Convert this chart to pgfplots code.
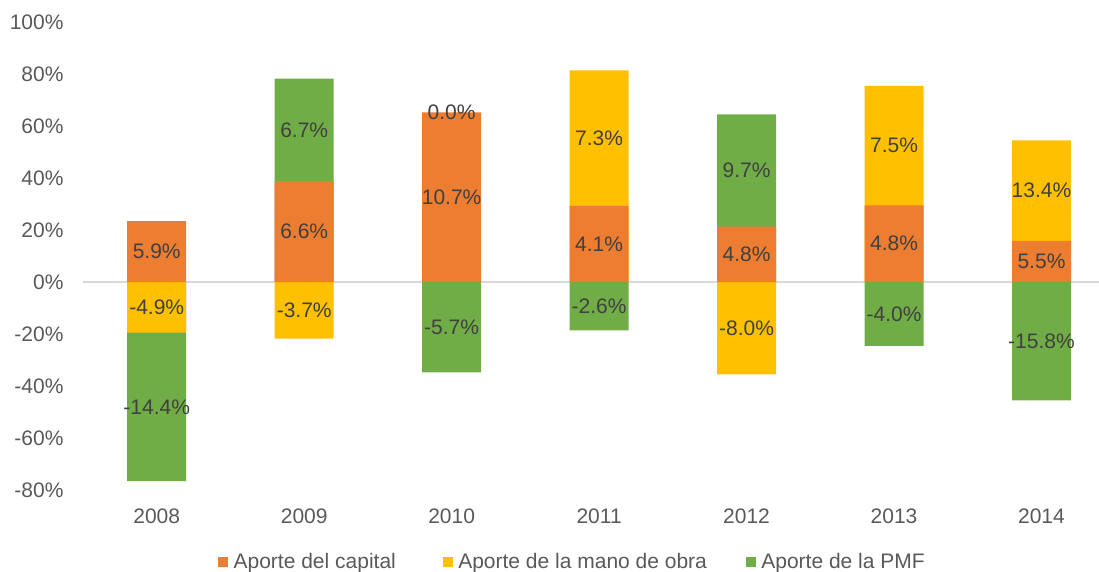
\documentclass[border=0pt]{standalone}
\usepackage{pgfplots}
\pgfplotsset{compat=1.18}
\usepackage{pgfplotstable}
\usepackage{fontspec}
\setmainfont{Liberation Sans}
\definecolor{ccap}{HTML}{ED7D31}
\definecolor{clab}{HTML}{FFC000}
\definecolor{cpmf}{HTML}{70AD47}
\definecolor{tickgray}{HTML}{595959}
\definecolor{lblgray}{HTML}{404040}
\definecolor{zerogray}{HTML}{D9D9D9}
\newcommand{\bigfont}{\fontsize{21}{25}\selectfont}

\pgfplotstableread{
x y
3 81.43
5 75.46
6 54.47
}\labtop
\pgfplotstableread{
x y
1 78.24
4 64.44
}\pmftop
\pgfplotstableread{
x y
0 -76.59
2 -34.76
3 -18.57
5 -24.54
6 -45.53
}\pmfbot
\pgfplotstableread{
x y
0 -19.44
1 -21.76
4 -35.56
}\labbot
\pgfplotstableread{
x y
0 23.41
1 38.82
2 65.24
3 29.29
4 21.33
5 29.45
6 15.85
}\capdata
\pgfplotstableread{
x y label
0 11.70 5.9
0 -9.72 -4.9
0 -48.02 -14.4
1 19.41 6.6
1 58.53 6.7
1 -10.88 -3.7
2 32.62 10.7
2 65.24 0.0
2 -17.38 -5.7
3 14.64 4.1
3 55.36 7.3
3 -9.29 -2.6
4 10.67 4.8
4 42.89 9.7
4 -17.78 -8.0
5 14.72 4.8
5 52.45 7.5
5 -12.27 -4.0
6 7.93 5.5
6 35.16 13.4
6 -22.77 -15.8
}\labels

\begin{document}
\begin{tikzpicture}
\begin{axis}[
  name=ax,
  scale only axis,
  width=1016pt, height=468pt,
  xmin=-0.5, xmax=6.39,
  ymin=-80, ymax=100,
  axis x line*=bottom, axis y line*=left,
  axis line style={draw=none},
  xtick={0,1,2,3,4,5,6},
  xticklabels={2008,2009,2010,2011,2012,2013,2014},
  ytick={-80,-60,-40,-20,0,20,40,60,80,100},
  yticklabels={-80\%,-60\%,-40\%,-20\%,0\%,20\%,40\%,60\%,80\%,100\%},
  major tick length=0pt,
  tick style={draw=none},
  every tick label/.append style={font=\bigfont, text=tickgray},
  xticklabel style={yshift=-15pt},
  yticklabel style={xshift=-16pt},
  clip=false,
  legend style={draw=none, fill=none, font=\bigfont, text=tickgray,
    legend columns=3, at={(0.1329,-0.1530)}, anchor=west,
    inner sep=0pt, nodes={inner sep=3pt},
    /tikz/column 1/.style={column sep=3pt},
    /tikz/column 3/.style={column sep=3pt},
    /tikz/column 5/.style={column sep=3pt},
    /tikz/column 2/.style={column sep=44pt},
    /tikz/column 4/.style={column sep=36pt}},
]
\draw[zerogray, line width=1.5pt] (axis cs:-0.5,0) -- (axis cs:6.39,0);
\addplot[ybar, bar width=59pt, bar shift=0pt, fill=clab, draw=none, forget plot] table[x=x,y=y]{\labtop};
\addplot[ybar, bar width=59pt, bar shift=0pt, fill=cpmf, draw=none, forget plot] table[x=x,y=y]{\pmftop};
\addplot[ybar, bar width=59pt, bar shift=0pt, fill=cpmf, draw=none, forget plot] table[x=x,y=y]{\pmfbot};
\addplot[ybar, bar width=59pt, bar shift=0pt, fill=clab, draw=none, forget plot] table[x=x,y=y]{\labbot};
\addplot[ybar, bar width=59pt, bar shift=0pt, fill=ccap, draw=none, forget plot] table[x=x,y=y]{\capdata};
\addplot[draw=none, mark=none, forget plot, nodes near coords={\pgfplotspointmeta\%},
  point meta=explicit symbolic,
  every node near coord/.append style={anchor=center, font=\bigfont, text=lblgray, inner sep=0pt}]
  table[x=x,y=y,meta=label]{\labels};
\addlegendimage{legend image code/.code={\fill[ccap] (0pt,-4.5pt) rectangle (9pt,4.5pt);}}
\addlegendentry{Aporte del capital}
\addlegendimage{legend image code/.code={\fill[clab] (0pt,-4.5pt) rectangle (9pt,4.5pt);}}
\addlegendentry{Aporte de la mano de obra}
\addlegendimage{legend image code/.code={\fill[cpmf] (0pt,-4.5pt) rectangle (9pt,4.5pt);}}
\addlegendentry{Aporte de la PMF}
\end{axis}
\pgfresetboundingbox
\path[use as bounding box] ([xshift=-83pt,yshift=-81pt]ax.south west) rectangle ([yshift=22pt]ax.north east);
\end{tikzpicture}
\end{document}
